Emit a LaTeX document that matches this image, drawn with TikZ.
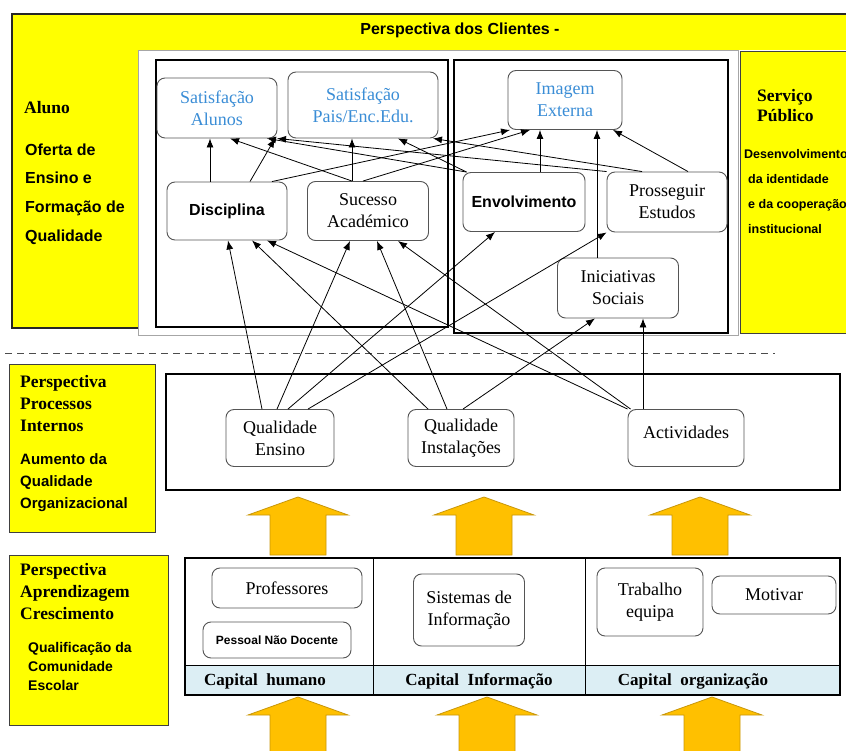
\documentclass[tikz,border=0pt]{standalone}
\usepackage{fontspec}
\setmainfont{Liberation Serif}
\setsansfont{Liberation Sans}
\usetikzlibrary{arrows.meta}
\definecolor{amarelo}{HTML}{FFFF00}
\definecolor{ouro}{HTML}{FFC000}
\definecolor{ourolinha}{HTML}{C8960A}
\definecolor{azul}{HTML}{3A8DD6}
\definecolor{faixa}{HTML}{DCEEF4}
\definecolor{cinza}{HTML}{555555}
\tikzset{>={Latex[length=9pt,width=7pt]}}
\tikzset{
  caixa/.style={draw=cinza, line width=0.9pt, rounded corners=8pt, fill=white,
    align=center, inner sep=0pt, font=\fontsize{18}{22}\selectfont},
  caixaazul/.style={caixa, text=azul},
  caixasans/.style={caixa, font=\sffamily\bfseries\fontsize{16}{20}\selectfont},
  titulo/.style={anchor=west, align=left, inner sep=0pt, font=\bfseries\fontsize{17.5}{22}\selectfont},
  descr/.style={anchor=west, align=left, inner sep=0pt, font=\sffamily\bfseries\fontsize{#1}{#1}\selectfont},
  liga/.style={->, line width=0.8pt},
}
\newcommand\setagrossa[2]{%
  \filldraw[fill=ouro, draw=ourolinha, line width=0.8pt] (#1,#2) -- ++(50,18) -- ++(-22,0)
    -- ++(0,40) -- ++(-56,0) -- ++(0,-40) -- ++(-22,0) -- cycle;
}
\begin{document}
\begin{tikzpicture}[x=1pt,y=-1pt]
\useasboundingbox (0,0) rectangle (846,751);
\fill[amarelo] (12,14) rectangle (852,50);
\fill[amarelo] (12,50) rectangle (138,328);
\filldraw[fill=white, draw=black!35] (138,50) rectangle (738,335);
\filldraw[fill=amarelo, draw=black!75, line width=1pt] (740,52) rectangle (852,333);
\draw[black!85, line width=1.5pt] (138,328) -- (12,328) -- (12,14) -- (852,14);
\draw[line width=1.5pt] (156,60) rectangle (448,327);
\draw[line width=1.5pt] (454,60) rectangle (728,333);

\node[font=\sffamily\bfseries\fontsize{16}{18}\selectfont] (clientes) at (460,30) {Perspectiva dos Clientes -};
\node[titulo] (aluno) at (24,108) {Aluno};
\node[descr=16, font=\sffamily\bfseries\fontsize{16}{28.7}\selectfont] (oferta) at (25,194)
  {Oferta de\\Ensino e\\Formação de\\Qualidade};
\node[titulo, font=\bfseries\fontsize{17.5}{20}\selectfont] (servico) at (757,106) {Serviço\\Público};
\node[descr=13, font=\sffamily\bfseries\fontsize{12.5}{25}\selectfont] (desenv) at (744,192)
  {Desenvolvimento\\\hspace*{4pt}da identidade\\\hspace*{4pt}e da cooperação\\\hspace*{4pt}institucional};

\node[caixaazul, minimum width=120, minimum height=60] (sata) at (217,108) {Satisfação\\Alunos};
\node[caixaazul, minimum width=150, minimum height=66] (satp) at (363,105) {Satisfação\\Pais/Enc.Edu.};
\node[caixaazul, minimum width=114, minimum height=59] (imge) at (565,100) {Imagem\\Externa};
\node[caixasans, minimum width=120, minimum height=58] (disc) at (227,211) {Disciplina};
\node[caixa, minimum width=121, minimum height=59] (suc) at (368,211) {Sucesso\\Académico};
\node[caixasans, minimum width=122, minimum height=59] (env) at (524,202) {Envolvimento};
\node[caixa, minimum width=120, minimum height=60] (pros) at (667,202) {Prosseguir\\Estudos};
\node[caixa, minimum width=121, minimum height=60] (inic) at (618,288) {Iniciativas\\Sociais};

\draw[dashed, dash pattern=on 7pt off 5pt, black!70] (5,353) -- (775,353);

\filldraw[fill=amarelo, draw=black!75, line width=1pt] (9,364) rectangle (155,532);
\node[titulo] (procint) at (20,404) {Perspectiva\\Processos\\Internos};
\node[descr=15, font=\sffamily\bfseries\fontsize{15}{22}\selectfont] (aumento) at (20,483)
  {Aumento da\\Qualidade\\Organizacional};
\draw[line width=1.5pt] (166,374) rectangle (840,490);
\node[caixa, minimum width=108, minimum height=57] (qe) at (280,438) {Qualidade\\Ensino};
\node[caixa, minimum width=106, minimum height=57] (qi) at (461,438) {Qualidade\\Instalações};
\node[caixa, minimum width=116, minimum height=57, text depth=12pt] (act) at (686,438) {Actividades};

\setagrossa{298}{497}
\setagrossa{484}{497}
\setagrossa{700}{497}

\filldraw[fill=amarelo, draw=black!75, line width=1pt] (9,555) rectangle (168,725);
\node[titulo] (aprend) at (20,592) {Perspectiva\\Aprendizagem\\Crescimento};
\node[descr=14, font=\sffamily\bfseries\fontsize{14}{19}\selectfont] (qualif) at (28,666)
  {Qualificação da\\Comunidade\\Escolar};
\fill[faixa] (185,665) rectangle (840,695);
\draw[line width=1.2pt] (185,558) rectangle (840,695);
\draw[line width=1pt] (185,665) -- (840,665);
\draw[line width=1pt] (373,558) -- (373,695);
\draw[line width=1pt] (585,558) -- (585,695);
\node[caixa, minimum width=150, minimum height=40] (prof) at (287,588) {Professores};
\node[caixa, minimum width=148, minimum height=36, font=\sffamily\bfseries\fontsize{12}{14}\selectfont] (pessoal) at (277,640) {Pessoal Não Docente};
\node[caixa, minimum width=111, minimum height=72] (sist) at (469,610) {Sistemas de\\Informação};
\node[caixa, minimum width=106, minimum height=68] (trab) at (650,602) {Trabalho\\equipa};
\node[caixa, minimum width=124, minimum height=38] (motiv) at (774,595) {Motivar};
\node[font=\bfseries\fontsize{17}{20}\selectfont] (caphum) at (265,681) {Capital\ \ humano};
\node[font=\bfseries\fontsize{17}{20}\selectfont] (capinf) at (479,681) {Capital\ \ Informação};
\node[font=\bfseries\fontsize{17}{20}\selectfont] (caporg) at (693,681) {Capital\ \ organização};

\setagrossa{298}{697}
\setagrossa{487}{697}
\setagrossa{712}{697}

\draw[liga] ([xshift=-17]disc.north) -- ([xshift=-7]sata.south);
\draw[liga] ([xshift=23]disc.north) -- ([xshift=58]sata.south);
\draw[liga] ([xshift=-16]suc.north) -- ([xshift=13]sata.south);
\draw[liga] ([xshift=4]env.north west) -- ([xshift=50]sata.south);
\draw[liga] (pros.north west) -- ([xshift=60]sata.south);
\draw[liga] ([xshift=-16]suc.north) -- ([xshift=-11]satp.south);
\draw[liga] ([xshift=4]env.north west) -- ([xshift=35]satp.south);
\draw[liga] ([xshift=-25]pros.north) -- ([xshift=70]satp.south);
\draw[liga] ([xshift=45]disc.north) -- ([xshift=-55]imge.south);
\draw[liga] ([xshift=-5]suc.north) -- ([xshift=-35]imge.south);
\draw[liga] ([xshift=16]env.north) -- ([xshift=-25]imge.south);
\draw[liga] ([xshift=-21]inic.north) -- ([xshift=32]imge.south);
\draw[liga] ([xshift=21]pros.north) -- ([xshift=48]imge.south);

\draw[liga] ([xshift=-18]qe.north) -- ([xshift=1]disc.south);
\draw[liga] ([xshift=-3]qe.north) -- ([xshift=-18]suc.south);
\draw[liga] ([xshift=8]qe.north) -- ([xshift=-29]env.south);
\draw[liga] ([xshift=28]qe.north) -- (pros.south west);
\draw[liga] ([xshift=-33]qi.north) -- ([xshift=25]disc.south);
\draw[liga] ([xshift=-14]qi.north) -- ([xshift=9]suc.south);
\draw[liga] ([xshift=2]qi.north) -- ([xshift=-23]inic.south);
\draw[liga] (act.north west) -- ([xshift=40]disc.south);
\draw[liga] ([xshift=3]act.north west) -- ([xshift=30]suc.south);
\draw[liga] ([xshift=-43]act.north) -- ([xshift=25]inic.south);
\end{tikzpicture}
\end{document}
